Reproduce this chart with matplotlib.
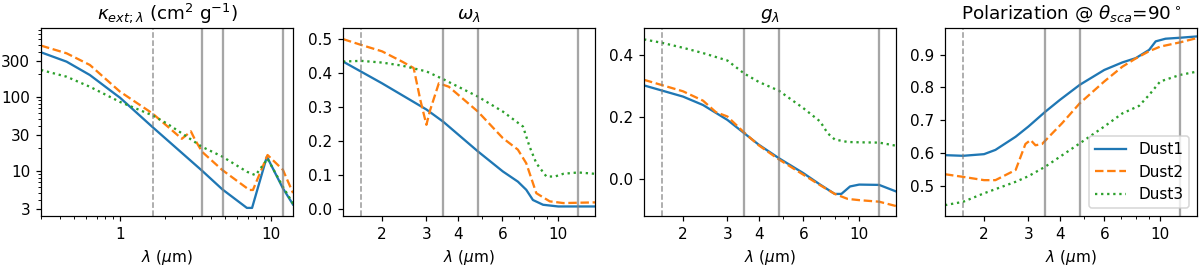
import matplotlib
matplotlib.use("Agg")
import matplotlib.pyplot as plt
from matplotlib.ticker import ScalarFormatter, NullFormatter
import numpy as np

# ---- data ----
# panel 1: extinction opacity (log-log)
wl_k1 = [0.3, 0.443, 0.632, 0.92, 1.0, 1.64, 3.5, 4.77, 6.93, 7.5, 9.4, 12.0, 14.0]
kap1 = [397, 297, 196, 110, 97, 39, 10, 5.6, 3.15, 3.15, 15.5, 5.8, 3.5]
wl_k2 = [0.3, 0.443, 0.632, 1.0, 1.64, 2.57, 2.95, 3.15, 3.5, 4.77, 7.2, 7.6, 9.5, 12.0, 14.0]
kap2 = [489, 385, 268, 117, 59.5, 27, 34, 26, 18, 10.2, 5.5, 5.5, 16.3, 10.3, 5.0]
wl_k3 = [0.3, 0.443, 0.632, 1.0, 1.64, 2.04, 2.57, 3.5, 4.77, 6.93, 7.9, 9.5, 12.0, 14.0]
kap3 = [229, 186, 136, 85, 56, 43.6, 32, 21, 15.5, 9.7, 8.7, 14.5, 6.1, 3.6]

# panel 2: albedo
wl_w1 = [1.4, 2.0, 3.0, 3.5, 4.8, 6.03, 6.92, 7.47, 7.94, 8.71, 10.0, 14.0]
alb1 = [0.434, 0.37, 0.293, 0.257, 0.17, 0.111, 0.081, 0.057, 0.027, 0.013, 0.008, 0.008]
wl_w2 = [1.4, 1.65, 2.0, 2.4, 2.67, 2.84, 3.0, 3.1, 3.36, 3.68, 4.8, 6.03, 6.92, 7.47, 8.19, 9.26, 10.48, 14.0]
alb2 = [0.5, 0.483, 0.464, 0.434, 0.415, 0.32, 0.248, 0.29, 0.37, 0.36, 0.287, 0.209, 0.175, 0.135, 0.047, 0.023, 0.018, 0.02]
wl_w3 = [1.4, 1.65, 2.0, 2.4, 3.0, 3.5, 4.8, 6.03, 7.25, 7.7, 8.19, 8.98, 9.7, 10.48, 12.0, 14.0]
alb3 = [0.434, 0.436, 0.431, 0.422, 0.405, 0.382, 0.331, 0.287, 0.243, 0.184, 0.135, 0.096, 0.096, 0.104, 0.108, 0.104]

# panel 3: asymmetry parameter
wl_g1 = [1.4, 2.0, 2.4, 3.0, 3.5, 4.0, 4.8, 6.0, 7.0, 8.0, 8.5, 9.2, 10.0, 12.0, 14.0]
g1 = [0.301, 0.265, 0.238, 0.190, 0.147, 0.110, 0.067, 0.019, -0.018, -0.048, -0.048, -0.024, -0.018, -0.019, -0.040]
wl_g2 = [1.4, 2.0, 2.4, 2.7, 3.0, 3.5, 4.0, 4.8, 6.0, 7.0, 8.0, 9.0, 10.0, 12.0, 14.0]
g2 = [0.319, 0.282, 0.252, 0.215, 0.201, 0.149, 0.108, 0.063, 0.014, -0.020, -0.048, -0.064, -0.068, -0.073, -0.087]
wl_g3 = [1.4, 1.65, 2.0, 2.4, 3.0, 3.5, 4.0, 4.8, 6.0, 7.0, 7.5, 8.0, 9.0, 10.0, 12.0, 14.0]
g3 = [0.449, 0.438, 0.422, 0.405, 0.381, 0.339, 0.312, 0.284, 0.228, 0.185, 0.147, 0.127, 0.119, 0.118, 0.117, 0.107]

# panel 4: polarization at 90 deg
wl_p1 = [1.4, 1.65, 2.0, 2.22, 2.67, 3.0, 3.5, 4.0, 4.8, 6.0, 7.08, 8.0, 9.04, 9.6, 10.5, 12.0, 14.0]
pol1 = [0.594, 0.592, 0.597, 0.610, 0.650, 0.681, 0.726, 0.762, 0.808, 0.853, 0.876, 0.889, 0.914, 0.940, 0.948, 0.951, 0.955]
wl_p2 = [1.4, 1.65, 2.0, 2.22, 2.67, 2.92, 3.06, 3.2, 3.4, 3.62, 4.08, 4.8, 6.0, 7.08, 8.0, 9.04, 10.0, 12.0, 14.0]
pol2 = [0.536, 0.528, 0.518, 0.518, 0.549, 0.628, 0.640, 0.624, 0.628, 0.650, 0.691, 0.752, 0.818, 0.863, 0.888, 0.910, 0.924, 0.937, 0.950]
wl_p3 = [1.4, 1.65, 2.0, 2.67, 3.0, 3.5, 4.8, 6.0, 7.08, 8.25, 9.04, 10.0, 12.0, 14.0]
pol3 = [0.442, 0.452, 0.478, 0.513, 0.530, 0.559, 0.630, 0.681, 0.721, 0.744, 0.777, 0.818, 0.838, 0.848]

band_dashed = 1.65
bands = [3.5, 4.8, 12.0]
labels = ["Dust1", "Dust2", "Dust3"]

plt.rcParams["font.size"] = 10

DPI = 110
fig = plt.figure(figsize=(1200 / DPI, 266 / DPI), dpi=DPI)
lefts = [41, 343, 644, 945]
axes = [fig.add_axes([l / 1200, 0.188, 252 / 1200, 0.706]) for l in lefts]

c1, c2, c3 = "#1f77b4", "#ff7f0e", "#2ca02c"
kw1 = dict(color=c1, ls="-")
kw2 = dict(color=c2, ls="--")
kw3 = dict(color=c3, ls=":")

ax = axes[0]
ax.plot(wl_k1, kap1, **kw1)
ax.plot(wl_k2, kap2, **kw2)
ax.plot(wl_k3, kap3, **kw3)
ax.set_xscale("log")
ax.set_yscale("log")
ax.set_xlim(0.3, 14)
ax.set_ylim(2.45, 840)
ax.set_yticks([3, 10, 30, 100, 300])
ax.yaxis.set_major_formatter(ScalarFormatter())
ax.yaxis.set_minor_formatter(NullFormatter())
ax.set_xticks([1, 10])
ax.xaxis.set_major_formatter(ScalarFormatter())
ax.xaxis.set_minor_formatter(NullFormatter())
ax.set_title(r"$\kappa_{ext;\lambda}$ (cm$^2$ g$^{-1}$)", fontsize=12)

ax = axes[1]
ax.plot(wl_w1, alb1, **kw1)
ax.plot(wl_w2, alb2, **kw2)
ax.plot(wl_w3, alb3, **kw3)
ax.set_ylim(-0.02, 0.532)
ax.set_yticks([0.0, 0.1, 0.2, 0.3, 0.4, 0.5])
ax.set_title(r"$\omega_\lambda$", fontsize=12)

ax = axes[2]
ax.plot(wl_g1, g1, **kw1)
ax.plot(wl_g2, g2, **kw2)
ax.plot(wl_g3, g3, **kw3)
ax.set_ylim(-0.119, 0.485)
ax.set_yticks([0.0, 0.2, 0.4])
ax.set_title(r"$g_\lambda$", fontsize=12)

ax = axes[3]
ax.plot(wl_p1, pol1, label=labels[0], **kw1)
ax.plot(wl_p2, pol2, label=labels[1], **kw2)
ax.plot(wl_p3, pol3, label=labels[2], **kw3)
ax.set_ylim(0.409, 0.98)
ax.set_title(r"Polarization @ $\theta_{sca}$=90$^\circ$", fontsize=12)
ax.legend(loc="lower right")

for ax in axes[1:]:
    ax.set_xscale("log")
    ax.set_xlim(1.4, 14)
    ax.set_xticks([2, 3, 4, 6, 10])
    ax.xaxis.set_major_formatter(ScalarFormatter())
    ax.xaxis.set_minor_formatter(NullFormatter())

for ax in axes:
    ax.axvline(band_dashed, color="gray", ls="--", lw=1, alpha=0.8)
    for b in bands:
        ax.axvline(b, color="gray", lw=1.5, alpha=0.7)
    ax.set_xlabel(r"$\lambda$ ($\mu$m)")

fig.savefig("out.png", dpi=DPI)
